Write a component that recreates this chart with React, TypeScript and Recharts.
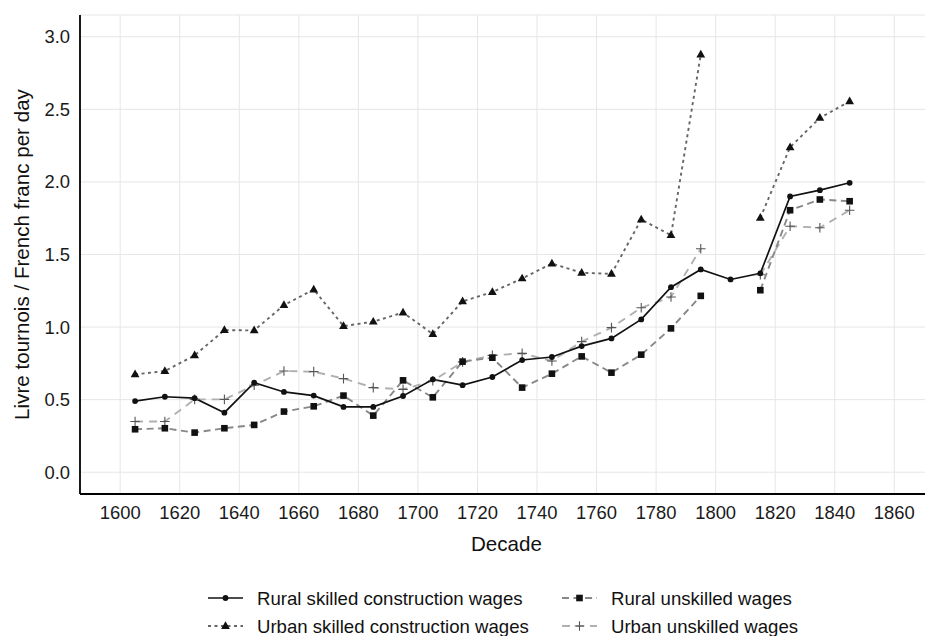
import React from "react";
import { LineChart, Line, XAxis, YAxis, CartesianGrid } from "recharts";

const decades = [
  1605, 1615, 1625, 1635, 1645, 1655, 1665, 1675, 1685, 1695, 1705, 1715, 1725,
  1735, 1745, 1755, 1765, 1775, 1785, 1795, 1805, 1815, 1825, 1835, 1845,
];

const ruralSkilled = [
  0.49, 0.52, 0.51, 0.41, 0.617, 0.553, 0.528, 0.45, 0.45, 0.525, 0.64, 0.6,
  0.656, 0.773, 0.794, 0.869, 0.922, 1.053, 1.275, 1.397, 1.328, 1.37, 1.9,
  1.943, 1.994,
];

const ruralUnskilled = [
  0.296, 0.303, 0.273, 0.303, 0.326, 0.418, 0.454, 0.528, 0.39, 0.633, 0.516,
  0.762, 0.789, 0.583, 0.679, 0.798, 0.686, 0.81, 0.991, 1.215, null, 1.254,
  1.805, 1.879, 1.867,
];

const urbanSkilled = [
  0.674, 0.697, 0.805, 0.979, 0.977, 1.151, 1.259, 1.007, 1.037, 1.1, 0.952,
  1.177, 1.241, 1.335, 1.438, 1.374, 1.367, 1.741, 1.633, 2.877, null, 1.753,
  2.239, 2.441, 2.555,
];

const urbanUnskilled = [
  0.349, 0.349, 0.502, 0.502, 0.599, 0.697, 0.693, 0.645, 0.583, 0.571, 0.63,
  0.76, 0.805, 0.819, 0.766, 0.9, 0.996, 1.133, 1.207, 1.54, null, 1.36, 1.695,
  1.684, 1.805,
];

const xTicks = [
  1600, 1620, 1640, 1660, 1680, 1700, 1720, 1740, 1760, 1780, 1800, 1820, 1840,
  1860,
];
const yTicks = [0, 0.5, 1, 1.5, 2, 2.5, 3];

const data = decades.map((decade, i) => ({
  decade,
  ruralSkilled: ruralSkilled[i],
  ruralUnskilled: ruralUnskilled[i],
  urbanSkilled: urbanSkilled[i],
  urbanUnskilled: urbanUnskilled[i],
}));

const FONT = "'Liberation Sans', Arial, sans-serif";

const circleMark = (cx: number, cy: number, key?: any) => (
  <circle key={key} cx={cx} cy={cy} r={2.9} fill="#111" />
);
const squareMark = (cx: number, cy: number, key?: any) => (
  <rect key={key} x={cx - 3.3} y={cy - 3.3} width={6.6} height={6.6} fill="#111" />
);
const triangleMark = (cx: number, cy: number, key?: any) => (
  <path
    key={key}
    d={`M${cx},${cy - 4.8} L${cx - 4.4},${cy + 2.9} L${cx + 4.4},${cy + 2.9} Z`}
    fill="#111"
  />
);
const plusMark = (cx: number, cy: number, key?: any) => (
  <path
    key={key}
    d={`M${cx - 4.8},${cy} H${cx + 4.8} M${cx},${cy - 4.8} V${cy + 4.8}`}
    stroke="#555"
    strokeWidth={1.1}
    fill="none"
  />
);

const makeDot =
  (mark: (cx: number, cy: number, key?: any) => React.ReactElement) =>
  (props: any) => {
    const { cx, cy, index, value } = props;
    if (value == null || cx == null || cy == null) return <g key={`n-${index}`} />;
    return mark(cx, cy, `d-${index}`);
  };

const XTick = (props: any) => {
  const { x, payload } = props;
  return (
    <text x={x} y={519} textAnchor="middle" fontSize={18.4} fill="#1a1a1a" fontFamily={FONT}>
      {payload.value}
    </text>
  );
};

const YTick = (props: any) => {
  const { y, payload } = props;
  return (
    <text x={70} y={y + 6.5} textAnchor="end" fontSize={18.4} fill="#1a1a1a" fontFamily={FONT}>
      {Number(payload.value).toFixed(1)}
    </text>
  );
};

const legendItems = [
  { label: "Rural skilled construction wages", x: 208, y: 598, stroke: "#111", dash: undefined, width: 1.7, mark: circleMark },
  { label: "Urban skilled construction wages", x: 208, y: 626, stroke: "#666", dash: "3 3.5", width: 1.9, mark: triangleMark },
  { label: "Rural unskilled wages", x: 562, y: 598, stroke: "#888", dash: "7 4.5", width: 1.9, mark: squareMark },
  { label: "Urban unskilled wages", x: 562, y: 626, stroke: "#b0b0b0", dash: "8 6", width: 1.9, mark: plusMark },
];

const App = () => {
  return (
    <div
      style={{
        position: "absolute",
        left: 0,
        top: 0,
        width: 925,
        height: 636,
        overflow: "hidden",
        background: "#fff",
      }}
    >
      <LineChart
        width={940}
        height={560}
        data={data}
        margin={{ top: 15, right: 7, bottom: 0, left: 0 }}
      >
        <CartesianGrid stroke="#e6e6e6" strokeWidth={1} />
        <XAxis
          dataKey="decade"
          type="number"
          domain={[1586.5, 1873]}
          allowDataOverflow
          ticks={xTicks}
          interval={0}
          height={66}
          tickLine={false}
          tickSize={0}
          tickMargin={0}
          tick={<XTick />}
          axisLine={{ stroke: "#000", strokeWidth: 1.8 }}
          label={{
            content: () => (
              <text x={506.5} y={551} textAnchor="middle" fontSize={20.6} fill="#111" fontFamily={FONT}>
                Decade
              </text>
            ),
          }}
        />
        <YAxis
          type="number"
          domain={[-0.15, 3.15]}
          allowDataOverflow
          ticks={yTicks}
          interval={0}
          width={80}
          tickLine={false}
          tickSize={0}
          tickMargin={0}
          tick={<YTick />}
          axisLine={{ stroke: "#000", strokeWidth: 1.8 }}
          label={{
            content: () => (
              <text
                x={29}
                y={254.5}
                transform="rotate(-90, 29, 254.5)"
                textAnchor="middle"
                fontSize={20.6}
                fill="#111"
                fontFamily={FONT}
              >
                Livre tournois / French franc per day
              </text>
            ),
          }}
        />
        <Line
          dataKey="urbanUnskilled"
          stroke="#b0b0b0"
          strokeWidth={1.9}
          strokeDasharray="8 6"
          dot={makeDot(plusMark)}
          activeDot={false}
          isAnimationActive={false}
        />
        <Line
          dataKey="ruralUnskilled"
          stroke="#888"
          strokeWidth={1.9}
          strokeDasharray="7 4.5"
          dot={makeDot(squareMark)}
          activeDot={false}
          isAnimationActive={false}
        />
        <Line
          dataKey="urbanSkilled"
          stroke="#666"
          strokeWidth={1.9}
          strokeDasharray="3 3.5"
          dot={makeDot(triangleMark)}
          activeDot={false}
          isAnimationActive={false}
        />
        <Line
          dataKey="ruralSkilled"
          stroke="#111"
          strokeWidth={1.7}
          dot={makeDot(circleMark)}
          activeDot={false}
          isAnimationActive={false}
        />
      </LineChart>
      <svg
        width={925}
        height={636}
        style={{ position: "absolute", left: 0, top: 0, pointerEvents: "none" }}
      >
        {legendItems.map((it) => (
          <g key={it.label}>
            <line
              x1={it.x}
              x2={it.x + 35}
              y1={it.y}
              y2={it.y}
              stroke={it.stroke}
              strokeWidth={it.width}
              strokeDasharray={it.dash}
            />
            {it.mark(it.x + 17.5, it.y)}
            <text
              x={it.x + 49}
              y={it.y + 6.8}
              fontSize={18.6}
              fill="#111"
              fontFamily={FONT}
            >
              {it.label}
            </text>
          </g>
        ))}
      </svg>
    </div>
  );
};

export default App;
